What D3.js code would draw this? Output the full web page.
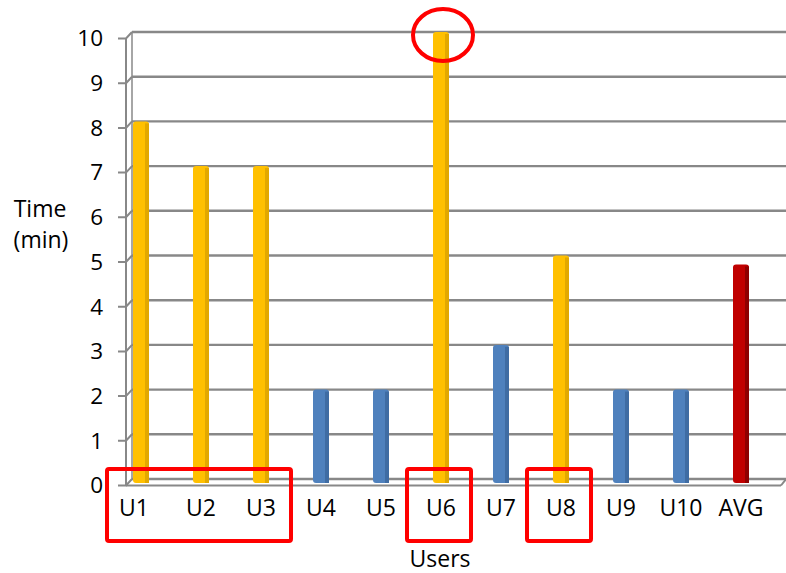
<!DOCTYPE html>
<html>
<head>
<meta charset="utf-8">
<script src="https://cdn.jsdelivr.net/npm/d3@7"></script>
<style>
  html, body { margin: 0; padding: 0; background: #fff; }
  svg { display: block; }
  text { font-family: "Open Sans", "Noto Sans", sans-serif; fill: #000; }
</style>
</head>
<body>
<svg id="chart" width="786" height="573"></svg>
<script>
// ---- data ----
const categories = ["U1", "U2", "U3", "U4", "U5", "U6", "U7", "U8", "U9", "U10", "AVG"];
const times = [8, 7, 7, 2, 2, 10, 3, 5, 2, 2, 4.8];
const groups = ["slow", "slow", "slow", "fast", "fast", "slow", "fast", "slow", "fast", "fast", "avg"];
const yTicks = [0, 1, 2, 3, 4, 5, 6, 7, 8, 9, 10];
const highlightedGroups = [["U1", "U2", "U3"], ["U6"], ["U8"]];
const circledCategory = "U6";

// ---- styles ----
const fill = { slow: "#FFC000", fast: "#4F81BD", avg: "#C00000" };
const side = { slow: "#E2A800", fast: "#3F6CA3", avg: "#8E0000" };

const svg = d3.select("#chart");

const x = d3.scaleBand().domain(categories).range([111, 771]).padding(0);
const y = d3.scaleLinear().domain([0, 10]).range([479, 32]);
const dx = -6, dy = 6.5; // front offset of the 3D floor/axis
const wallLeft = 132, wallRight = 786;
const FS = 23;

// back wall gridlines
svg.append("g").selectAll("line").data(yTicks).join("line")
  .attr("x1", wallLeft).attr("x2", wallRight)
  .attr("y1", d => y(d)).attr("y2", d => y(d))
  .attr("stroke", "#888").attr("stroke-width", 2.4);

// side wall diagonals + ticks
const g3 = svg.append("g").attr("stroke", "#888").attr("stroke-width", 2).attr("fill", "none");
g3.selectAll("path.diag").data(yTicks).join("path")
  .attr("d", d => `M${wallLeft},${y(d)} L${wallLeft + dx},${y(d) + dy} L${wallLeft + dx - 8},${y(d) + dy}`);
g3.append("line").attr("x1", wallLeft + dx).attr("x2", wallLeft + dx)
  .attr("y1", y(10) + dy).attr("y2", y(0) + dy);
g3.append("line").attr("x1", wallLeft).attr("x2", wallLeft)
  .attr("y1", y(10)).attr("y2", y(0)).attr("stroke-width", 1.5);
g3.append("line").attr("x1", wallLeft + dx).attr("x2", 781)
  .attr("y1", y(0) + dy).attr("y2", y(0) + dy);
g3.append("line").attr("x1", 781).attr("x2", 786)
  .attr("y1", y(0) + dy).attr("y2", y(0));

// bars
const bw = 16;
const bars = svg.append("g").selectAll("g").data(categories).join("g");
bars.append("rect")
  .attr("x", d => x(d) + x.bandwidth() / 2 - bw / 2)
  .attr("y", (d, i) => y(times[i]))
  .attr("width", bw)
  .attr("height", (d, i) => y(0) + 4 - y(times[i]))
  .attr("rx", 3)
  .attr("fill", (d, i) => fill[groups[i]]);
bars.append("rect")
  .attr("x", d => x(d) + x.bandwidth() / 2 + bw / 2 - 4)
  .attr("y", (d, i) => y(times[i]) + 2)
  .attr("width", 4)
  .attr("height", (d, i) => y(0) + 2 - y(times[i]))
  .attr("fill", (d, i) => side[groups[i]]);

// y tick labels
svg.append("g").selectAll("text").data(yTicks).join("text")
  .attr("x", 103).attr("y", d => y(d) + dy)
  .attr("dy", "0.35em")
  .attr("text-anchor", "end")
  .attr("font-size", FS - 0.5)
  .text(d => d);

// x labels
svg.append("g").selectAll("text").data(categories).join("text")
  .attr("x", (d, i) => x(d) + x.bandwidth() / 2 - (i === 0 ? 7 : 0))
  .attr("y", 516)
  .attr("text-anchor", "middle")
  .attr("font-size", FS)
  .text(d => d);

// axis titles
svg.append("text").attr("x", 40).attr("y", 217).attr("text-anchor", "middle")
  .attr("font-size", FS).text("Time");
svg.append("text").attr("x", 41).attr("y", 248).attr("text-anchor", "middle")
  .attr("font-size", FS).text("(min)");
svg.append("text").attr("x", 440).attr("y", 567).attr("text-anchor", "middle")
  .attr("font-size", FS).text("Users");

// red highlight annotations
const ann = svg.append("g").attr("fill", "none").attr("stroke", "#FF0000").attr("stroke-width", 4);
ann.selectAll("rect").data(highlightedGroups).join("rect")
  .attr("x", g => x(g[0]) + x.bandwidth() / 2 - 34)
  .attr("width", g => x(g[g.length - 1]) - x(g[0]) + 64)
  .attr("y", 469).attr("height", 72).attr("rx", 2);
const ci = categories.indexOf(circledCategory);
ann.append("ellipse")
  .attr("cx", x(circledCategory) + x.bandwidth() / 2 + 2)
  .attr("cy", y(times[ci]) + 3)
  .attr("rx", 30).attr("ry", 26);
</script>
</body>
</html>
